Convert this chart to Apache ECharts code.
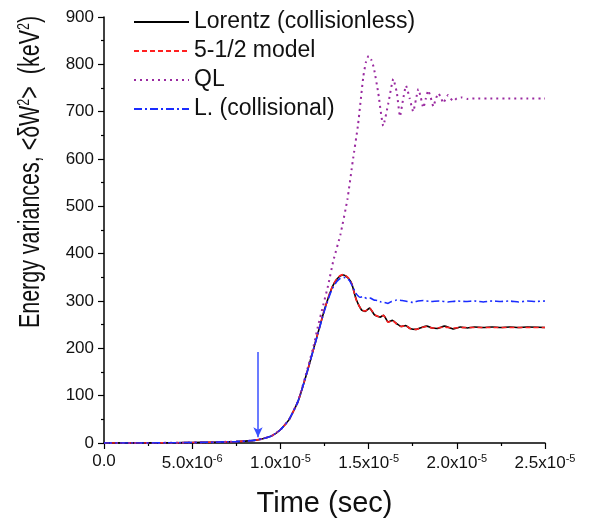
<!DOCTYPE html>
<html>
<head>
<meta charset="utf-8">
<script src="https://cdn.jsdelivr.net/npm/echarts@6/dist/echarts.min.js"></script>
<style>html,body{margin:0;padding:0;background:#fff}#c{width:591px;height:524px}</style>
</head>
<body>
<div id="c"></div>
<script>
// time in units of 1e-6 s
const seriesNames = ['Lorentz (collisionless)', '5-1/2 model', 'QL', 'L. (collisional)'];
const xTickLabels = ['0.0', '5.0x10{s|-6}', '1.0x10{s|-5}', '1.5x10{s|-5}', '2.0x10{s|-5}', '2.5x10{s|-5}'];

const tLorentz = [0, 2, 4, 5, 6, 7, 7.5, 8, 8.5, 9, 9.5, 10, 10.5, 11, 11.5, 12, 12.5, 12.8, 13.0, 13.2, 13.4, 13.6, 13.85, 14.05, 14.3, 14.6, 14.8, 15.05, 15.35, 15.65, 15.85, 16.1, 16.35, 16.6, 16.85, 17.1, 17.35, 17.7, 18.0, 18.3, 18.6, 18.9, 19.3, 19.8, 20.2, 20.6, 21, 21.5, 22, 22.5, 23, 23.5, 24, 25];
const vLorentz = [0, 0, 0.5, 1, 1.5, 2.5, 3, 4, 5.5, 9, 15, 28, 50, 88, 148, 215, 282, 316, 334, 346, 353, 355, 348, 336, 303, 281, 278, 285, 270, 266, 270, 256, 259, 252, 246, 248, 242, 240, 244, 247, 243, 242, 247, 241, 245, 243, 245, 244, 245, 244, 245, 244, 245, 244];

const tModel = [0, 2, 4, 5, 6, 7, 7.5, 8, 8.5, 9, 9.5, 10, 10.5, 11, 11.5, 12, 12.5, 12.8, 13.0, 13.2, 13.4, 13.6, 13.85, 14.05, 14.3, 14.6, 14.8, 15.05, 15.35, 15.65, 15.85, 16.1, 16.35, 16.6, 16.85, 17.1, 17.35, 17.7, 18.0, 18.3, 18.6, 18.9, 19.3, 19.8, 20.5, 21, 22, 23, 24, 25];
const vModel = [0, 0, 0.5, 1, 1.5, 2.5, 3, 4, 5.5, 9, 15, 28, 50, 88, 148, 215, 282, 317, 335, 347, 354, 356, 349, 336, 302, 281, 279, 285, 271, 266, 270, 255, 259, 251, 246, 248, 242, 240, 244, 246, 243, 243, 245, 243, 244, 244, 244, 244, 244, 244];

const tQL = [0, 2, 4, 5, 6, 7, 7.5, 8, 8.5, 9, 9.5, 10, 10.5, 11, 11.5, 11.9, 12.1, 12.4, 12.7, 13.0, 13.4, 13.8, 14.1, 14.4, 14.7, 14.85, 15.0, 15.15, 15.3, 15.55, 15.83, 16.12, 16.4, 16.6, 16.78, 16.95, 17.12, 17.33, 17.53, 17.68, 17.82, 17.96, 18.1, 18.24, 18.38, 18.52, 18.67, 18.8, 18.95, 19.1, 19.23, 19.38, 19.5, 19.65, 19.8, 20, 20.3, 20.6, 21, 22, 23, 24, 25];
const vQL = [0, 0, 0.5, 1, 1.5, 2.5, 3, 4, 5.5, 9, 15, 28, 50, 89, 152, 208, 242, 287, 332, 385, 440, 515, 595, 672, 774, 805, 818, 810, 792, 739, 670, 718, 769, 740, 690, 725, 755, 728, 700, 725, 748, 730, 708, 727, 745, 730, 711, 726, 739, 730, 718, 728, 735, 728, 722, 728, 730, 727, 728, 728, 728, 728, 728];

const tColl = [0, 2, 4, 5, 6, 7, 7.5, 8, 8.5, 9, 9.5, 10, 10.5, 11, 11.5, 12, 12.5, 12.8, 13.0, 13.2, 13.4, 13.6, 13.9, 14.1, 14.3, 14.5, 14.7, 14.9, 15.1, 15.3, 15.5, 15.7, 15.9, 16.1, 16.3, 16.6, 16.9, 17.2, 17.5, 17.8, 18.1, 18.5, 19, 19.5, 20, 20.5, 21, 21.5, 22, 22.5, 23, 23.5, 24, 24.5, 25];
const vColl = [0, 0, 0.5, 1, 1.5, 2.5, 3, 4, 5.5, 9, 15, 28, 50, 88, 148, 214, 280, 313, 330, 341, 348, 350, 344, 330, 315, 308, 309, 305, 306, 302, 301, 298, 297, 295, 299, 302, 301, 299, 297, 300, 301, 299, 300, 298, 300, 299, 300, 298, 300, 299, 300, 298, 300, 299, 300];

// arrow marker (time, value)
const arrowT = 8.73;
const arrowFrom = 192;
const arrowTo = 12;

const pairs = (t, v) => t.map((x, i) => [x, v[i]]);
const FONT = "'Liberation Sans', Arial, sans-serif";

const chart = echarts.init(document.getElementById('c'), null, {renderer: 'canvas'});
chart.setOption({
  animation: false,
  backgroundColor: '#fff',
  grid: {left: 104, right: 46, top: 17, bottom: 81, containLabel: false},
  legend: {
    orient: 'vertical', left: 128, top: 5,
    itemWidth: 55, itemHeight: 24, itemGap: 5,
    itemStyle: {opacity: 0},
    textStyle: {fontFamily: FONT, fontSize: 23, color: '#111', lineHeight: 24},
    data: seriesNames
  },
  xAxis: {
    type: 'value', min: 0, max: 25, interval: 5,
    name: 'Time (sec)', nameLocation: 'middle', nameGap: 46,
    nameTextStyle: {fontFamily: FONT, fontSize: 29, color: '#111'},
    axisLine: {lineStyle: {color: '#000', width: 1.5}},
    axisTick: {length: 6, lineStyle: {color: '#000', width: 1.2}},
    minorTick: {show: true, splitNumber: 2, length: 3, lineStyle: {color: '#000', width: 1.2}},
    splitLine: {show: false},
    axisLabel: {
      fontFamily: FONT, fontSize: 17, color: '#111', margin: 10,
      formatter: v => xTickLabels[Math.round(v / 5)],
      rich: {s: {fontFamily: FONT, fontSize: 11, color: '#111', verticalAlign: 'top', padding: [0, 0, 9, 0]}}
    }
  },
  yAxis: {
    type: 'value', min: 0, max: 900, interval: 100,
    axisLine: {show: true, lineStyle: {color: '#000', width: 1.5}},
    axisTick: {show: true, length: 6, lineStyle: {color: '#000', width: 1.2}},
    minorTick: {show: true, splitNumber: 2, length: 3, lineStyle: {color: '#000', width: 1.2}},
    splitLine: {show: false},
    axisLabel: {fontFamily: FONT, fontSize: 17, color: '#111', margin: 10}
  },
  graphic: [{
    type: 'text', x: 31, y: 172, rotation: Math.PI / 2, scaleX: 0.74,
    style: {
      text: 'Energy variances, <δW{s|2}>  (keV{s|2})',
      font: '29px ' + FONT, fill: '#111', align: 'center', verticalAlign: 'middle',
      rich: {s: {fontFamily: FONT, fontSize: 17, fill: '#111', verticalAlign: 'top', padding: [0, 0, 14, 0]}}
    }
  }],
  series: [
    {name: seriesNames[0], type: 'line', symbol: 'none', smooth: 0.15, data: pairs(tLorentz, vLorentz),
     lineStyle: {color: '#000', width: 1.6, type: 'solid'}, itemStyle: {color: '#000'}},
    {name: seriesNames[1], type: 'line', symbol: 'none', smooth: 0.15, data: pairs(tModel, vModel),
     lineStyle: {color: '#ff2020', width: 1.6, type: [5, 3]}, itemStyle: {color: '#ff2020'}},
    {name: seriesNames[2], type: 'line', symbol: 'none', smooth: 0.15, data: pairs(tQL, vQL),
     lineStyle: {color: '#9a2aa0', width: 2, type: [2, 4]}, itemStyle: {color: '#9a2aa0'}},
    {name: seriesNames[3], type: 'line', symbol: 'none', smooth: 0.15, data: pairs(tColl, vColl),
     lineStyle: {color: '#1a2cff', width: 1.6, type: [8, 3, 2, 3]}, itemStyle: {color: '#1a2cff'},
     markLine: {
       silent: true, symbol: ['none', 'arrow'], symbolSize: [7, 10],
       label: {show: false},
       lineStyle: {color: '#3a50ff', width: 1.5, type: 'solid'},
       data: [[{coord: [arrowT, arrowFrom]}, {coord: [arrowT, arrowTo]}]]
     }}
  ]
});
</script>
</body>
</html>
